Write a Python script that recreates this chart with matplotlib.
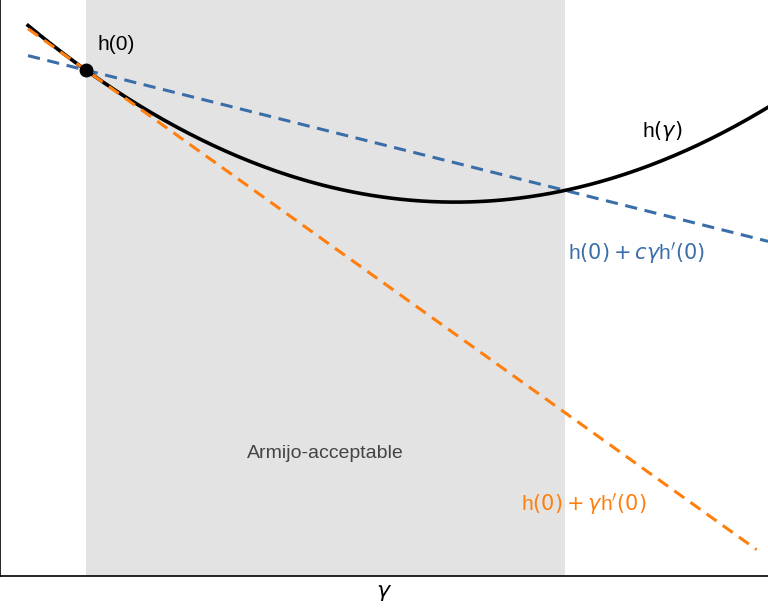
import numpy as np
import matplotlib
matplotlib.use("Agg")
import matplotlib.pyplot as plt

# quadratic model of h(gamma) = h0 + slope*g + curv*g^2
h0 = 1.056
slope = -0.715
curv = 0.464
c_armijo = 0.351
accept_range = [0.0, 1.0]
g_start, g_end = -0.121, 1.424
g_orange_end = 1.40

plt.rcParams['font.family'] = ['Liberation Sans', 'DejaVu Sans']
plt.rcParams['mathtext.fontset'] = 'dejavusans'

fig = plt.figure(figsize=(7.68, 6.12), dpi=100)
ax = fig.add_axes([0, 36 / 612, 1, 576 / 612])
ax.set_xlim(-86 / 479, 682 / 479)
ax.set_ylim(0, 576 / 479)

ax.axvspan(*accept_range, color='#e3e3e3', lw=0, zorder=0)

g = np.linspace(g_start, g_end, 300)
ax.plot(g, h0 + slope * g + curv * g ** 2, color='black', lw=2.6, zorder=3)

go = np.linspace(g_start, g_orange_end, 2)
ax.plot(go, h0 + slope * go, color='#ff7f0e', lw=2.2, ls=(0, (4, 2.5)), zorder=4)
gb = np.linspace(g_start, g_end, 2)
ax.plot(gb, h0 + c_armijo * slope * gb, color='#3a6ea8', lw=2.2, ls=(0, (4, 2.5)), zorder=2)

ax.plot([0], [h0], 'o', color='black', ms=9, zorder=5)

ax.text(0.025, 1.11, 'h(0)', fontsize=15, ha='left', va='center')
ax.text(1.16, 0.93, r'h$(\gamma)$', fontsize=15, ha='left', va='center')
ax.text(1.15, 0.675, r"h$(0)+c\gamma$h$'(0)$", fontsize=15, ha='center', va='center', color='#3a6ea8')
ax.text(1.04, 0.15, r"h$(0)+\gamma$h$'(0)$", fontsize=15, ha='center', va='center', color='#ff7f0e')
ax.text(0.5, 0.255, 'Armijo-acceptable', fontsize=14, ha='center', va='center', color='#444444')

ax.set_xticks([])
ax.set_yticks([])
for s in ['top', 'right']:
    ax.spines[s].set_visible(False)
ax.spines['left'].set_linewidth(1.2)
ax.spines['bottom'].set_linewidth(1.2)
ax.set_xlabel(r'$\gamma$', fontsize=16, labelpad=4)

fig.savefig('out.png', dpi=100)
